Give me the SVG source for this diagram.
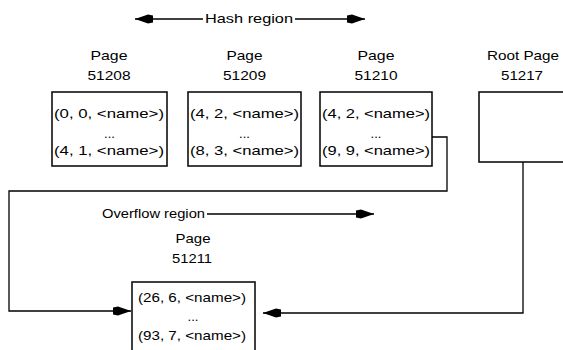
<svg xmlns="http://www.w3.org/2000/svg" width="563" height="350" viewBox="0 0 563 350">
<style>
text{font-family:"Liberation Sans",Arial,sans-serif;font-size:13px;fill:#000}
.box{fill:#fff;stroke:#000;stroke-width:1.5}
.ln{fill:none;stroke:#000;stroke-width:1.3}
</style>
<defs>
<marker id="ah" viewBox="0 0 18 10" refX="18" refY="5" markerWidth="18" markerHeight="10" markerUnits="userSpaceOnUse" orient="auto">
<path d="M0,1.5 L5,0.5 L18,5 L5,9.5 L0,8.5 Z" fill="#000"/>
</marker>
</defs>
<rect width="563" height="350" fill="#fff"/>
<g id="connectors">
<line class="ln" x1="203" y1="19" x2="135" y2="19" marker-end="url(#ah)"/>
<line class="ln" x1="295" y1="19" x2="365" y2="19" marker-end="url(#ah)"/>
<line class="ln" x1="207" y1="214" x2="374" y2="214" marker-end="url(#ah)"/>
<polyline class="ln" points="432,137 447,137 447,191 9,191 9,311 131,311" marker-end="url(#ah)"/>
<polyline class="ln" points="523,162 523,313 263,313" marker-end="url(#ah)"/>
</g>
<g id="hash-label"><text x="205" y="23" textLength="88" lengthAdjust="spacingAndGlyphs">Hash region</text></g>
<g id="overflow-label"><text x="102" y="218" textLength="103" lengthAdjust="spacingAndGlyphs">Overflow region</text></g>
<g id="page51208">
<text x="109" y="60" text-anchor="middle" textLength="37" lengthAdjust="spacingAndGlyphs">Page</text>
<text x="109" y="80" text-anchor="middle" textLength="43" lengthAdjust="spacingAndGlyphs">51208</text>
<rect class="box" x="52" y="92" width="115" height="74"/>
<text x="54" y="118" textLength="110" lengthAdjust="spacingAndGlyphs">(0, 0, &lt;name&gt;)</text>
<text x="109.5" y="138" text-anchor="middle">...</text>
<text x="54" y="155" textLength="110" lengthAdjust="spacingAndGlyphs">(4, 1, &lt;name&gt;)</text>
</g>
<g id="page51209">
<text x="244.5" y="60" text-anchor="middle" textLength="36" lengthAdjust="spacingAndGlyphs">Page</text>
<text x="244.5" y="80" text-anchor="middle" textLength="43" lengthAdjust="spacingAndGlyphs">51209</text>
<rect class="box" x="188" y="92" width="113" height="74"/>
<text x="190" y="118" textLength="109" lengthAdjust="spacingAndGlyphs">(4, 2, &lt;name&gt;)</text>
<text x="244.5" y="138" text-anchor="middle">...</text>
<text x="190" y="155" textLength="109" lengthAdjust="spacingAndGlyphs">(8, 3, &lt;name&gt;)</text>
</g>
<g id="page51210">
<text x="376" y="60" text-anchor="middle" textLength="37" lengthAdjust="spacingAndGlyphs">Page</text>
<text x="376" y="80" text-anchor="middle" textLength="43" lengthAdjust="spacingAndGlyphs">51210</text>
<rect class="box" x="320" y="92" width="112" height="74"/>
<text x="322" y="118" textLength="108" lengthAdjust="spacingAndGlyphs">(4, 2, &lt;name&gt;)</text>
<text x="376" y="138" text-anchor="middle">...</text>
<text x="322" y="155" textLength="108" lengthAdjust="spacingAndGlyphs">(9, 9, &lt;name&gt;)</text>
</g>
<g id="rootpage51217">
<text x="523" y="60" text-anchor="middle" textLength="72" lengthAdjust="spacingAndGlyphs">Root Page</text>
<text x="522" y="80" text-anchor="middle" textLength="42" lengthAdjust="spacingAndGlyphs">51217</text>
<rect class="box" x="479" y="92" width="90" height="70"/>
</g>
<g id="page51211">
<text x="193" y="243" text-anchor="middle" textLength="35" lengthAdjust="spacingAndGlyphs">Page</text>
<text x="192" y="263" text-anchor="middle" textLength="40" lengthAdjust="spacingAndGlyphs">51211</text>
<rect class="box" x="132" y="282" width="123" height="80"/>
<text x="138" y="302" textLength="108" lengthAdjust="spacingAndGlyphs">(26, 6, &lt;name&gt;)</text>
<text x="193" y="321" text-anchor="middle">...</text>
<text x="138" y="340" textLength="108" lengthAdjust="spacingAndGlyphs">(93, 7, &lt;name&gt;)</text>
</g>
</svg>
